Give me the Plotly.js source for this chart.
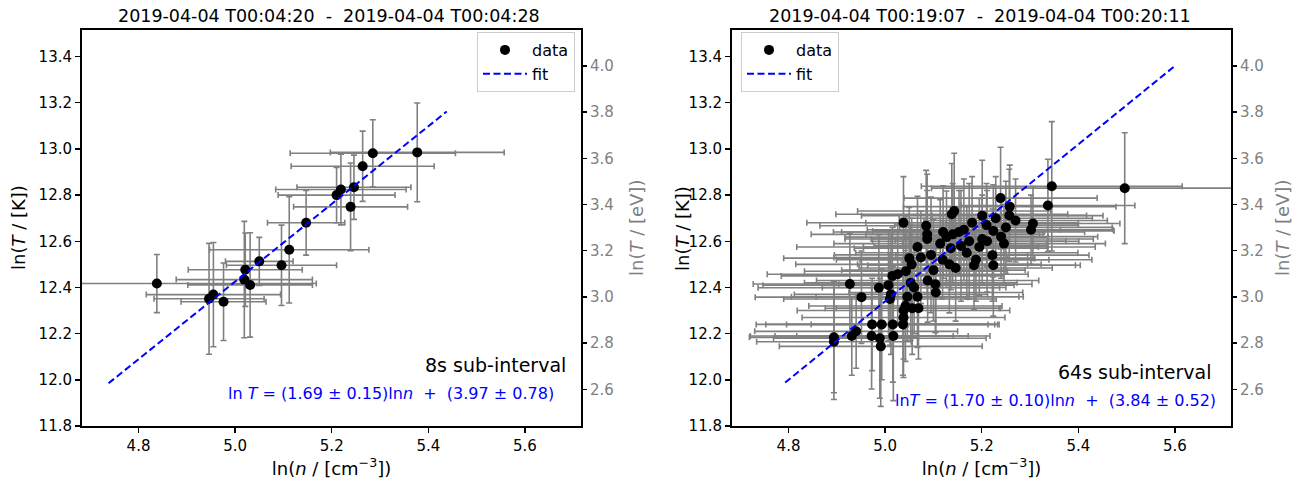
<!DOCTYPE html>
<html>
<head>
<meta charset="utf-8">
<script src="https://cdn.plot.ly/plotly-3.0.1.min.js"></script>
<style>html,body{margin:0;padding:0;background:#fff;}#chart{width:1307px;height:481px;}</style>
</head>
<body>
<div id="chart"></div>
<script>
// ---------- data: 8s sub-interval (left panel) ----------
const leftLnN   = [4.838, 4.955, 4.946, 4.976, 5.019, 5.031, 5.021, 5.050, 5.096, 5.112, 5.147, 5.210, 5.219, 5.246, 5.239, 5.264, 5.285, 5.377];
const leftLnT   = [12.417, 12.369, 12.351, 12.338, 12.434, 12.411, 12.477, 12.513, 12.496, 12.563, 12.680, 12.800, 12.824, 12.834, 12.749, 12.925, 12.981, 12.985];
const leftErrN  = [0.33, 0.139, 0.114, 0.088, 0.141, 0.129, 0.118, 0.070, 0.114, 0.165, 0.080, 0.121, 0.135, 0.118, 0.118, 0.148, 0.171, 0.180];
const leftErrT  = [0.126, 0.226, 0.240, 0.168, 0.252, 0.226, 0.159, 0.104, 0.174, 0.230, 0.140, 0.120, 0.153, 0.139, 0.190, 0.152, 0.145, 0.214];
const leftFitX  = [4.738, 5.438];
const leftFitY  = [11.985, 13.162];

// ---------- data: 64s sub-interval (right panel) ----------
const rightLnN  = [5.496, 5.345, 5.239, 5.337, 5.258, 5.143, 5.138, 5.257, 5.201, 5.229, 5.306, 5.038, 5.085, 5.302, 5.250, 5.210, 5.224, 5.087, 5.127, 5.140,
                   5.153, 5.174, 5.201, 5.211, 5.246, 5.087, 5.114, 5.067, 5.136, 5.157, 5.169, 5.095, 5.074, 5.050, 5.119, 5.133, 5.188, 5.222, 5.224, 5.184,
                   5.146, 5.055, 5.043, 5.026, 5.088, 5.104, 5.105, 5.053, 5.060, 5.067, 5.046, 5.015, 5.007, 5.012, 5.010, 4.987, 4.951, 4.927, 5.042, 5.056,
                   5.069, 5.038, 5.038, 5.037, 5.016, 4.993, 4.973, 5.017, 4.989, 4.991, 4.972, 4.940, 4.931, 4.894, 4.894, 5.180, 5.163, 5.195, 5.120, 5.100,
                   5.240, 5.270];
const rightLnT  = [12.830, 12.838, 12.787, 12.755, 12.750, 12.731, 12.717, 12.712, 12.711, 12.700, 12.677, 12.680, 12.667, 12.650, 12.660, 12.670, 12.645, 12.630, 12.618, 12.630,
                   12.640, 12.600, 12.610, 12.600, 12.590, 12.610, 12.590, 12.575, 12.570, 12.580, 12.550, 12.541, 12.530, 12.527, 12.520, 12.500, 12.520, 12.540, 12.496, 12.496,
                   12.484, 12.500, 12.470, 12.457, 12.430, 12.414, 12.378, 12.420, 12.400, 12.360, 12.360, 12.450, 12.410, 12.370, 12.350, 12.399, 12.358, 12.415, 12.320, 12.310,
                   12.310, 12.300, 12.270, 12.240, 12.240, 12.240, 12.240, 12.190, 12.180, 12.145, 12.190, 12.210, 12.190, 12.184, 12.165, 12.680, 12.650, 12.575, 12.640, 12.475,
                   12.620, 12.690];
const rightErrN = [0.40, 0.27, 0.20, 0.18, 0.22, 0.20, 0.24, 0.16, 0.25, 0.20, 0.18, 0.20, 0.22, 0.17, 0.22, 0.19, 0.25, 0.24, 0.21, 0.18,
                   0.26, 0.20, 0.23, 0.19, 0.21, 0.17, 0.22, 0.25, 0.20, 0.18, 0.23, 0.20, 0.18, 0.26, 0.22, 0.19, 0.24, 0.20, 0.17, 0.22,
                   0.20, 0.24, 0.21, 0.27, 0.23, 0.20, 0.18, 0.22, 0.19, 0.21, 0.24, 0.23, 0.26, 0.20, 0.22, 0.25, 0.22, 0.20, 0.20, 0.18,
                   0.17, 0.22, 0.21, 0.19, 0.22, 0.24, 0.24, 0.20, 0.22, 0.21, 0.20, 0.21, 0.21, 0.175, 0.16, 0.22, 0.20, 0.24, 0.21, 0.19,
                   0.20, 0.19];
const rightErrT = [0.24, 0.28, 0.22, 0.20, 0.18, 0.25, 0.22, 0.20, 0.24, 0.18, 0.16, 0.20, 0.24, 0.15, 0.20, 0.18, 0.20, 0.26, 0.20, 0.22,
                   0.18, 0.25, 0.19, 0.22, 0.17, 0.21, 0.19, 0.22, 0.18, 0.24, 0.20, 0.25, 0.20, 0.22, 0.17, 0.21, 0.18, 0.20, 0.22, 0.19,
                   0.23, 0.20, 0.24, 0.22, 0.18, 0.21, 0.19, 0.25, 0.20, 0.22, 0.19, 0.21, 0.24, 0.26, 0.20, 0.23, 0.20, 0.22, 0.24, 0.20,
                   0.22, 0.21, 0.26, 0.22, 0.25, 0.24, 0.20, 0.28, 0.26, 0.26, 0.23, 0.16, 0.17, 0.24, 0.25, 0.20, 0.22, 0.21, 0.20, 0.22,
                   0.18, 0.18];
const rightFitX = [4.793, 5.599];
const rightFitY = [11.988, 13.358];

// ---------- labels ----------
const xTicks = [4.8, 5.0, 5.2, 5.4, 5.6];
const titles = ['2019-04-04 T00:04:20  -  2019-04-04 T00:04:28', '2019-04-04 T00:19:07  -  2019-04-04 T00:20:11'];
const subLabels = ['8s sub-interval', '64s sub-interval'];
const fitLabels = ['ln <i>T</i> = (1.69 ± 0.15)ln<i>n</i>  +  (3.97 ± 0.78)', 'ln<i>T</i> = (1.70 ± 0.10)ln<i>n</i>  +  (3.84 ± 0.52)'];
const yTitleK = 'ln(<i>T</i> / [K])';
const yTitleEV = 'ln(<i>T</i> / [eV])';
const xTitle = 'ln(<i>n</i> / [cm<sup>−3</sup>])';
const LN_K_PER_EV = Math.log(11604.518);

// ---------- geometry ----------
const W = 1307, H = 481;
const px = v => v / W, py = v => (H - v) / H;
const yRange = [11.8, 13.515];
const xRange = [4.683, 5.716];
const FONT = 'DejaVu Sans, sans-serif';
const GRAY = '#808080';

function errSpec(arr) {
  return {type: 'data', array: arr, visible: true, color: GRAY, thickness: 1.6, width: 3};
}
function dataTrace(x, y, ex, ey, xa, ya, lg) {
  return {x: x, y: y, xaxis: xa, yaxis: ya, type: 'scatter', mode: 'markers', name: 'data', legend: lg,
    cliponaxis: false, marker: {color: '#000', size: 10}, error_x: errSpec(ex), error_y: errSpec(ey), hoverinfo: 'skip'};
}
function fitTrace(x, y, xa, ya, lg) {
  return {x: x, y: y, xaxis: xa, yaxis: ya, type: 'scatter', mode: 'lines', name: 'fit', legend: lg,
    line: {color: '#0000ff', width: 2, dash: '7px,3.5px'}, hoverinfo: 'skip'};
}
function dummy(xa, ya) {
  return {x: [xRange[0]], y: [yRange[0] - LN_K_PER_EV], xaxis: xa, yaxis: ya, type: 'scatter', mode: 'markers',
    marker: {opacity: 0}, showlegend: false, hoverinfo: 'skip'};
}

const traces = [
  dataTrace(leftLnN, leftLnT, leftErrN, leftErrT, 'x', 'y', 'legend'),
  fitTrace(leftFitX, leftFitY, 'x', 'y', 'legend'),
  dataTrace(rightLnN, rightLnT, rightErrN, rightErrT, 'x2', 'y2', 'legend2'),
  fitTrace(rightFitX, rightFitY, 'x2', 'y2', 'legend2'),
  dummy('x', 'y3'),
  dummy('x2', 'y4')
];

const tickFont = {family: FONT, size: 15, color: '#000'};
const titleFont = {family: FONT, size: 18, color: '#000'};

function xAxis(dom, anchor) {
  return {domain: dom, anchor: anchor, range: xRange, tickvals: xTicks, tickformat: '.1f',
    showline: true, linecolor: '#000', linewidth: 2, mirror: true, ticks: 'outside', ticklen: 5, tickwidth: 1.5,
    tickcolor: '#000', showgrid: false, zeroline: false, tickfont: tickFont,
    title: {text: xTitle, font: titleFont, standoff: 8}};
}
function yAxis(anchor) {
  return {domain: [py(426), py(30)], anchor: anchor, range: yRange, dtick: 0.2, tick0: 11.8, tickformat: '.1f',
    showline: true, linecolor: '#000', linewidth: 2, mirror: true, ticks: 'outside', ticklen: 5, tickwidth: 1.5,
    tickcolor: '#000', showgrid: false, zeroline: false, tickfont: tickFont};
}
function yAxisEV(anchor, over) {
  return {overlaying: over, anchor: anchor, side: 'right', range: [yRange[0] - LN_K_PER_EV, yRange[1] - LN_K_PER_EV],
    dtick: 0.2, tick0: 0, tickformat: '.1f', showline: false, ticks: 'outside', ticklen: 5, tickwidth: 1.5,
    tickcolor: '#000', showgrid: false, zeroline: false, tickfont: {family: FONT, size: 15, color: GRAY}};
}

const legendBase = {bgcolor: 'rgba(255,255,255,0.8)', bordercolor: '#cccccc', borderwidth: 1,
  font: {family: FONT, size: 16, color: '#000'}, itemwidth: 44, tracegroupgap: 0, yanchor: 'top'};

function yTitle(text, xPix, color) {
  return {text: text, xref: 'paper', yref: 'paper', x: px(xPix), y: py(228), xanchor: 'center', yanchor: 'middle',
    textangle: -90, showarrow: false, font: {family: FONT, size: 18, color: color}};
}
function note(text, xPix, yPix, size, color, anchor) {
  return {text: text, xref: 'paper', yref: 'paper', x: px(xPix), y: py(yPix), xanchor: anchor, yanchor: 'middle',
    showarrow: false, font: {family: FONT, size: size, color: color}};
}

const layout = {
  width: W, height: H, margin: {l: 0, r: 0, t: 0, b: 0},
  paper_bgcolor: '#fff', plot_bgcolor: '#fff', showlegend: true,
  font: {family: FONT},
  xaxis: xAxis([px(82), px(581)], 'y'),
  yaxis: yAxis('x'),
  yaxis3: yAxisEV('x', 'y'),
  xaxis2: xAxis([px(732), px(1231)], 'y2'),
  yaxis2: yAxis('x2'),
  yaxis4: yAxisEV('x2', 'y2'),
  legend: Object.assign({}, legendBase, {x: px(575), xanchor: 'right', y: py(32)}),
  legend2: Object.assign({}, legendBase, {x: px(741), xanchor: 'left', y: py(32)}),
  annotations: [
    note(titles[0], 329, 16, 17.5, '#000', 'center'),
    note(titles[1], 980, 16, 17.5, '#000', 'center'),
    note(subLabels[0], 568, 365, 19, '#000', 'right'),
    note(fitLabels[0], 556, 393, 16, '#0000ff', 'right'),
    note(subLabels[1], 1213, 372, 19, '#000', 'right'),
    note(fitLabels[1], 1218, 400, 16, '#0000ff', 'right'),
    yTitle(yTitleK, 18, '#000'),
    yTitle(yTitleEV, 636, GRAY),
    yTitle(yTitleK, 682, '#000'),
    yTitle(yTitleEV, 1282, GRAY)
  ]
};

Plotly.newPlot('chart', traces, layout, {staticPlot: true, displayModeBar: false});
</script>
</body>
</html>
